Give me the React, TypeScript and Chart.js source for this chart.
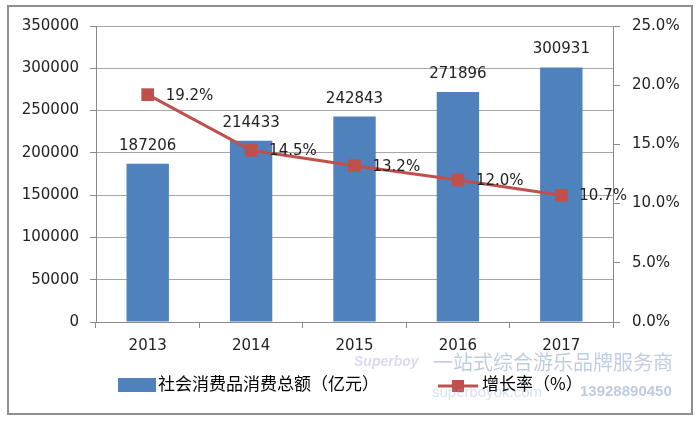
import React, { useEffect, useRef } from "react";
import { Chart, registerables } from "chart.js";

Chart.register(...registerables);

const categories = ["2013", "2014", "2015", "2016", "2017"];
const salesValues = [187206, 214433, 242843, 271896, 300931];
const growthRates = [19.2, 14.5, 13.2, 12.0, 10.7];
const barSeriesName = "社会消费品消费总额（亿元）";
const lineSeriesName = "增长率（%）";
const watermarkSlogan = "一站式综合游乐品牌服务商";
const watermarkPhone = "13928890450";
const watermarkSite = "superboyok.com";
const watermarkBrand = "Superboy";

const BAR_COLOR = "#4F81BD";
const LINE_COLOR = "#C0504D";
const TEXT_COLOR = "#222222";
const NUM_FONT = "DejaVu Sans";
const CJK_FONT = "'Noto Sans CJK SC', 'Noto Sans', sans-serif";

const decorPlugin = {
  id: "decor",
  beforeDraw(chart: any) {
    const ctx = chart.ctx;
    ctx.save();
    ctx.fillStyle = "#ffffff";
    ctx.fillRect(0, 0, chart.width, chart.height);
    ctx.strokeStyle = "#8f8f8f";
    ctx.lineWidth = 2;
    ctx.strokeRect(8, 6, 684, 408);
    ctx.restore();
  },
  afterDatasetsDraw(chart: any) {
    const ctx = chart.ctx;
    ctx.save();
    ctx.fillStyle = TEXT_COLOR;
    ctx.font = `15px '${NUM_FONT}'`;
    const barMeta = chart.getDatasetMeta(0);
    barMeta.data.forEach((el: any, i: number) => {
      ctx.textAlign = "center";
      ctx.textBaseline = "middle";
      ctx.fillText(String(salesValues[i]), el.x, el.y - 18);
    });
    const lineMeta = chart.getDatasetMeta(1);
    lineMeta.data.forEach((el: any, i: number) => {
      ctx.textAlign = "left";
      ctx.textBaseline = "middle";
      ctx.fillText(growthRates[i].toFixed(1) + "%", el.x + 18, el.y + 1);
    });
    ctx.restore();
  },
  afterDraw(chart: any) {
    const ctx = chart.ctx;
    ctx.save();
    // legend
    ctx.fillStyle = BAR_COLOR;
    ctx.fillRect(118, 378, 38, 14);
    ctx.fillStyle = "#000000";
    ctx.font = `17px ${CJK_FONT}`;
    ctx.textAlign = "left";
    ctx.textBaseline = "middle";
    ctx.fillText(barSeriesName, 158, 384);
    ctx.strokeStyle = LINE_COLOR;
    ctx.lineWidth = 3;
    ctx.beginPath();
    ctx.moveTo(438, 386);
    ctx.lineTo(478, 386);
    ctx.stroke();
    ctx.fillStyle = LINE_COLOR;
    ctx.fillRect(452, 380, 12, 12);
    ctx.fillStyle = "#000000";
    ctx.fillText(lineSeriesName, 482, 384);

    // watermark
    ctx.globalAlpha = 0.5;
    ctx.fillStyle = "#7f9cc8";
    ctx.font = `20px ${CJK_FONT}`;
    ctx.fillText(watermarkSlogan, 433, 362);
    ctx.font = `bold 15px 'Liberation Sans'`;
    ctx.fillStyle = "#7f96bf";
    ctx.fillText(watermarkPhone, 580, 392);
    ctx.globalAlpha = 0.35;
    ctx.font = `15px 'Liberation Sans'`;
    ctx.fillStyle = "#8fa6cc";
    ctx.fillText(watermarkSite, 432, 393);
    ctx.font = `italic bold 14px 'Liberation Sans'`;
    ctx.fillStyle = "#9f8fd8";
    ctx.fillText(watermarkBrand, 354, 362);
    ctx.restore();
  },
};

export default function App() {
  const canvasRef = useRef<HTMLCanvasElement | null>(null);

  useEffect(() => {
    document.body.style.margin = "0";
    const canvas = canvasRef.current;
    if (!canvas) return;
    const tickFont = { family: NUM_FONT, size: 15 };
    const chart = new Chart(canvas, {
      type: "bar",
      data: {
        labels: categories,
        datasets: [
          {
            type: "bar",
            label: barSeriesName,
            data: salesValues,
            backgroundColor: BAR_COLOR,
            barPercentage: 0.41,
            categoryPercentage: 1,
            yAxisID: "y",
            order: 1,
          },
          {
            type: "line",
            label: lineSeriesName,
            data: growthRates,
            borderColor: LINE_COLOR,
            backgroundColor: LINE_COLOR,
            borderWidth: 3,
            pointStyle: "rect",
            pointRadius: 9,
            pointHoverRadius: 9,
            pointBorderWidth: 0,
            yAxisID: "y1",
            order: 0,
          } as any,
        ],
      },
      options: {
        responsive: false,
        animation: false,
        devicePixelRatio: 1,
        layout: { padding: { top: 26, left: 0, right: 0, bottom: 0 } },
        plugins: {
          legend: { display: false },
          tooltip: { enabled: false },
        },
        scales: {
          x: {
            offset: true,
            grid: {
              offset: true,
              drawOnChartArea: false,
              drawTicks: true,
              tickLength: 6,
              color: "#8a8a8a",
            },
            border: { color: "#8a8a8a", width: 1 },
            ticks: { font: tickFont, color: TEXT_COLOR, padding: 9 },
            afterFit(scale: any) {
              scale.height = 100;
            },
          },
          y: {
            position: "left",
            min: 0,
            max: 350000,
            ticks: {
              stepSize: 50000,
              font: tickFont,
              color: TEXT_COLOR,
              padding: 11,
              callback: (v: any) => String(v),
            },
            grid: {
              color: "#a6a6a6",
              tickLength: 6,
              tickColor: "#8a8a8a",
            },
            border: { color: "#8a8a8a", width: 1 },
            afterFit(scale: any) {
              scale.width = 96;
            },
          },
          y1: {
            position: "right",
            min: 0,
            max: 25,
            ticks: {
              stepSize: 5,
              font: tickFont,
              color: TEXT_COLOR,
              padding: 12,
              callback: (v: any) => Number(v).toFixed(1) + "%",
            },
            grid: {
              drawOnChartArea: false,
              tickLength: 7,
              color: "#8a8a8a",
            },
            border: { color: "#8a8a8a", width: 1 },
            afterFit(scale: any) {
              scale.width = 87;
            },
          },
        },
      },
      plugins: [decorPlugin],
    });
    return () => chart.destroy();
  }, []);

  return (
    <div style={{ width: 700, height: 422 }}>
      <canvas ref={canvasRef} width={700} height={422} style={{ display: "block" }} />
    </div>
  );
}
